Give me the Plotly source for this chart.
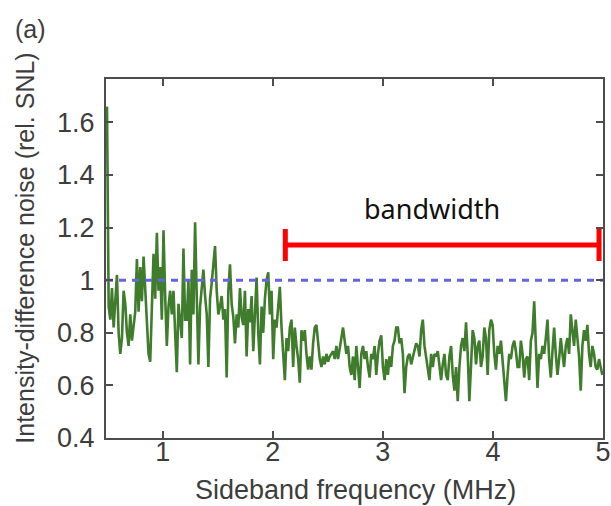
import numpy as np
import plotly.graph_objects as go

# Intensity-difference noise relative to the shot-noise limit, in consecutive
# frequency segments (uniform sampling from 0.494 MHz to 4.994 MHz)
noise_seg1 = [1.66, 0.90, 0.85, 0.97, 0.82, 0.93, 1.02, 0.80, 0.72, 0.78,
              0.96, 0.91, 0.80, 0.75, 0.87, 0.77, 0.84, 0.88, 1.08, 0.88,
              1.05, 0.92, 1.09, 0.96, 0.87, 0.72, 0.69, 0.92, 1.10, 0.93,
              1.18, 0.96, 1.05, 0.85, 1.19, 0.94, 0.75, 0.90, 0.96, 0.87,
              0.96, 0.80, 0.65, 0.91, 0.83, 0.78, 1.12, 0.85]
noise_seg2 = [0.85, 1.00, 0.68, 1.04, 0.87, 1.22, 0.94, 0.68, 0.90, 0.99,
              1.04, 0.94, 0.87, 0.67, 0.93, 0.99, 1.05, 1.13, 0.96, 0.87,
              0.90, 0.94, 0.85, 0.89, 0.63, 0.96, 1.06, 0.91, 0.86, 0.76,
              0.87, 0.82, 0.97, 0.86, 0.83, 0.96, 0.71, 0.89, 0.84, 0.94,
              0.73, 0.87, 1.01, 0.80, 0.68, 0.90, 0.80, 0.93, 1.00, 1.03]
noise_seg3 = [0.87, 0.96, 0.70, 0.85, 0.82, 0.90, 0.975, 0.82, 0.70, 0.62,
              0.78, 0.73, 0.82, 0.85, 0.67, 0.82, 0.75, 0.70, 0.61, 0.81,
              0.77, 0.81, 0.72, 0.66, 0.71, 0.66, 0.76, 0.82, 0.83, 0.75,
              0.70, 0.67, 0.71, 0.68, 0.72, 0.69, 0.71, 0.72, 0.73, 0.70,
              0.75, 0.70, 0.75, 0.78, 0.82, 0.76, 0.72, 0.75, 0.67, 0.64]
noise_seg4 = [0.71, 0.62, 0.75, 0.67, 0.59, 0.72, 0.75, 0.70, 0.73, 0.67,
              0.63, 0.72, 0.70, 0.75, 0.64, 0.72, 0.77, 0.79, 0.67, 0.62,
              0.70, 0.64, 0.71, 0.67, 0.75, 0.77, 0.82, 0.82, 0.76, 0.78,
              0.72, 0.57, 0.67, 0.71, 0.72, 0.68, 0.71, 0.73, 0.76, 0.75,
              0.71, 0.81, 0.85, 0.75, 0.70, 0.67, 0.62, 0.72, 0.67, 0.72]
noise_seg5 = [0.71, 0.73, 0.67, 0.62, 0.68, 0.72, 0.64, 0.62, 0.71, 0.75,
              0.64, 0.58, 0.67, 0.54, 0.67, 0.75, 0.78, 0.73, 0.84, 0.72,
              0.54, 0.70, 0.81, 0.78, 0.68, 0.75, 0.77, 0.67, 0.71, 0.82,
              0.78, 0.64, 0.81, 0.85, 0.83, 0.72, 0.66, 0.75, 0.72, 0.77,
              0.68, 0.62, 0.54, 0.64, 0.72, 0.70, 0.75, 0.77, 0.73, 0.67]
noise_seg6 = [0.67, 0.77, 0.72, 0.63, 0.70, 0.71, 0.62, 0.77, 0.80, 0.92,
              0.72, 0.59, 0.72, 0.70, 0.75, 0.72, 0.78, 0.85, 0.70, 0.63,
              0.73, 0.82, 0.72, 0.64, 0.70, 0.78, 0.72, 0.67, 0.75, 0.78,
              0.72, 0.87, 0.81, 0.75, 0.85, 0.77, 0.71, 0.58, 0.75, 0.81,
              0.77, 0.83, 0.72, 0.67, 0.75, 0.72, 0.67, 0.66, 0.70, 0.67,
              0.64]

freq_start, freq_stop = 0.494, 4.994   # MHz

snl_level = 1.0                        # shot-noise limit reference
bandwidth_start, bandwidth_stop = 2.114, 4.964   # MHz
bandwidth_level = 1.134

x_range = [0.485, 5.0]
y_range = [0.4, 1.765]
x_tickvals = [1, 2, 3, 4, 5]
y_tickvals = [0.4, 0.6, 0.8, 1.0, 1.2, 1.4, 1.6]
y_ticktext = ["0.4", "0.6", "0.8", "1", "1.2", "1.4", "1.6"]

noise = (noise_seg1 + noise_seg2 + noise_seg3 +
         noise_seg4 + noise_seg5 + noise_seg6)
freq = np.linspace(freq_start, freq_stop, len(noise))

AX_COLOR = "#4d4d4d"
TXT_COLOR = "#3d3d3d"
FONT = "Liberation Sans, Arial, sans-serif"

fig = go.Figure()

fig.add_trace(go.Scatter(
    x=freq, y=noise, mode="lines",
    line=dict(color="#3f7c2c", width=2.6),
    hoverinfo="skip", showlegend=False))

fig.add_trace(go.Scatter(
    x=x_range, y=[snl_level, snl_level], mode="lines",
    line=dict(color="#6464e0", width=3, dash="7px,6px"),
    hoverinfo="skip", showlegend=False))

# bandwidth bar drawn as a horizontal error bar with end caps
bw_center = (bandwidth_start + bandwidth_stop) / 2
bw_half = (bandwidth_stop - bandwidth_start) / 2
fig.add_trace(go.Scatter(
    x=[bw_center], y=[bandwidth_level], mode="markers",
    marker=dict(size=1, color="rgba(0,0,0,0)"),
    error_x=dict(type="data", array=[bw_half], symmetric=True,
                 color="#ff0000", thickness=5, width=16),
    hoverinfo="skip", showlegend=False))

fig.add_annotation(
    x=3.445, y=1.271, xref="x", yref="y", text="bandwidth",
    xanchor="center", yanchor="middle",
    showarrow=False, font=dict(family="Noto Sans", size=27, color="#111111"))

fig.add_annotation(
    x=0.503, y=-0.145, xref="paper", yref="paper",
    xanchor="center", yanchor="middle",
    text="Sideband frequency (MHz)", showarrow=False,
    font=dict(family=FONT, size=27, color=TXT_COLOR))

fig.add_annotation(
    x=-0.163, y=0.53, xref="paper", yref="paper", textangle=-90,
    xanchor="center", yanchor="middle",
    text="Intensity-difference noise (rel. SNL)", showarrow=False,
    font=dict(family=FONT, size=25, color=TXT_COLOR))

fig.add_annotation(
    x=-0.152, y=1.139, xref="paper", yref="paper",
    xanchor="center", yanchor="middle",
    text="(a)", showarrow=False,
    font=dict(family=FONT, size=25, color=TXT_COLOR))

axis_common = dict(
    showline=True, linecolor=AX_COLOR, linewidth=2, mirror="ticks",
    ticks="inside", ticklen=7, tickwidth=2, tickcolor=AX_COLOR,
    showgrid=False, zeroline=False, automargin=False,
    tickfont=dict(family=FONT, size=27, color=TXT_COLOR))

fig.update_layout(
    width=611, height=506,
    margin=dict(l=106, r=8, t=79, b=68, autoexpand=False),
    paper_bgcolor="white", plot_bgcolor="white",
    xaxis=dict(range=x_range, tickvals=x_tickvals, ticklabelstandoff=-11,
               **axis_common),
    yaxis=dict(range=y_range, tickvals=y_tickvals, ticktext=y_ticktext,
               ticklabelstandoff=4, **axis_common),
)

fig.write_html("out.html")
